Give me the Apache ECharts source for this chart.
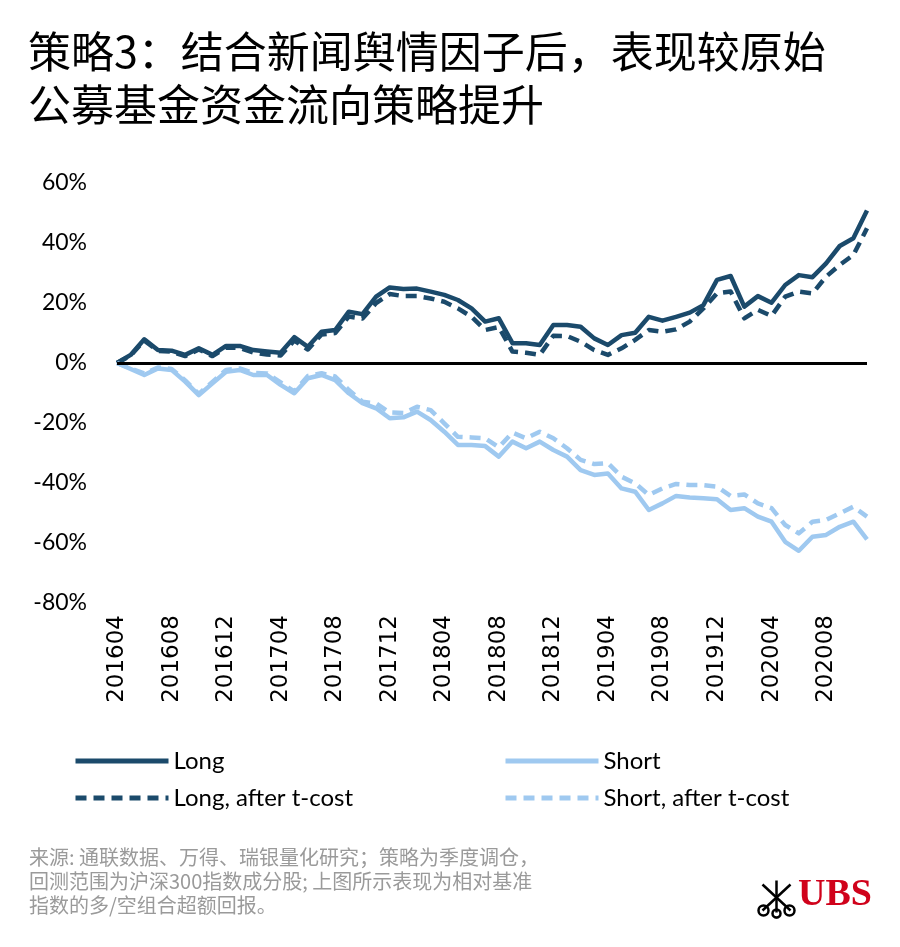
<!DOCTYPE html>
<html><head><meta charset="utf-8">
<script src="https://cdn.jsdelivr.net/npm/echarts@6/dist/echarts.min.js"></script>
<style>html,body{margin:0;padding:0;background:#fff}#c{width:900px;height:947px}</style>
</head><body><div id="c"></div>
<script>
const months = ['201604','201605','201606','201607','201608','201609','201610','201611','201612',
'201701','201702','201703','201704','201705','201706','201707','201708','201709','201710','201711','201712',
'201801','201802','201803','201804','201805','201806','201807','201808','201809','201810','201811','201812',
'201901','201902','201903','201904','201905','201906','201907','201908','201909','201910','201911','201912',
'202001','202002','202003','202004','202005','202006','202007','202008','202009','202010','202011'];
const longRet = [0,2.7,7.9,4.3,4.1,2.7,4.9,2.7,5.7,5.7,4.3,3.8,3.4,8.6,5.4,10.4,11,17.1,16.3,22.1,25.2,24.7,24.8,23.8,22.7,21,18.2,13.8,14.9,6.6,6.6,6,12.7,12.7,12.1,8.2,6,9.3,10.1,15.4,14.1,15.4,16.8,19.3,27.7,29,18.8,22.3,20.1,26,29.3,28.6,33.2,39,41.6,50.8];
const longAfterCost = [0,2.5,7.5,4,3.8,2.3,4.5,2.3,5.2,5,3.5,2.8,2.5,7.5,4.5,9.5,10,15.5,14.8,20,23,22.3,22.3,21.5,20.4,18.2,15.4,11,12,3.8,3.4,2.7,9.1,9,7.1,4.3,2.7,4.9,7.7,11,10.4,11.2,13.8,18.2,23.2,23.8,14.9,17.7,15.7,22.1,23.8,23.2,28.8,32.7,36,44.9];
const shortRet = [0,-2,-4,-1.8,-2.3,-6.2,-10.7,-6.8,-2.9,-2.3,-4,-4,-7.3,-10.1,-5.1,-4,-5.7,-10.1,-13.4,-15.1,-18.4,-18.1,-16.2,-19,-22.9,-27.3,-27.3,-27.7,-31.2,-26.2,-28.4,-26.2,-29,-31.2,-35.7,-37.3,-36.8,-41.8,-42.9,-49,-46.8,-44.3,-44.8,-45.1,-45.4,-49,-48.4,-51.2,-52.9,-59.6,-62.6,-57.9,-57.3,-54.6,-52.9,-58.8];
const shortAfterCost = [0,-1.8,-3.5,-1.5,-2,-5.8,-10.3,-6.3,-2.3,-1.8,-3.3,-3.5,-6.5,-9.5,-4.3,-3.4,-4.5,-9,-12.9,-13.5,-16.5,-16.7,-14.6,-15.7,-20.1,-24.6,-24.8,-25.1,-28.1,-23.2,-25.1,-22.9,-25.1,-28.4,-32.3,-33.7,-33.4,-37.9,-40.1,-44,-41.8,-40.3,-40.7,-40.7,-41.2,-44.3,-43.8,-46.8,-48.4,-54,-56.8,-52.9,-52.3,-50.1,-47.9,-51.2];
const seriesNames = ['Long','Short','Long, after t-cost','Short, after t-cost'];
const titleLines = ['策略3：结合新闻舆情因子后，表现较原始','公募基金资金流向策略提升'];
const noteLines = ['来源: 通联数据、万得、瑞银量化研究；策略为季度调仓，','回测范围为沪深300指数成分股; 上图所示表现为相对基准','指数的多/空组合超额回报。'];

const DARK = '#1b4a6b', LIGHT = '#9fc9f0';
const chart = echarts.init(document.getElementById('c'));
const mkSeries = (name, data, color, dashed, withZero) => ({
  name, type: 'line', data, symbol: 'none', smooth: false,
  lineStyle: { color, width: 4.5, type: dashed ? [11, 7] : 'solid', cap: 'butt', join: 'round' },
  itemStyle: { color },
  markLine: withZero ? { silent: true, symbol: 'none', label: { show: false },
    lineStyle: { color: '#000', width: 3, type: 'solid' }, data: [{ yAxis: 0 }] } : undefined,
  z: dashed ? 3 : 2
});
const legendText = { fontFamily: 'Lato', fontSize: 24, color: '#000', padding: 0, lineHeight: 26 };
const legendBase = { orient: 'vertical', top: 743, itemWidth: 93, itemHeight: 14, itemGap: 11,
  textStyle: legendText, itemStyle: { opacity: 0 }, lineStyle: { width: 5 } };
chart.setOption({
  backgroundColor: '#fff',
  animation: false,
  grid: { left: 117, right: 33, top: 183, bottom: 344, containLabel: false },
  legend: [
    Object.assign({ data: ['Long', 'Long, after t-cost'], left: 68 }, legendBase),
    Object.assign({ data: ['Short', 'Short, after t-cost'], left: 498 }, legendBase)
  ],
  xAxis: {
    type: 'category', data: months, boundaryGap: false,
    axisLine: { show: false, onZero: false }, axisTick: { show: false },
    axisLabel: { interval: 3, rotate: 90, margin: 12, fontFamily: 'DejaVu Sans', fontSize: 23, color: '#000' },
    splitLine: { show: false }
  },
  yAxis: {
    type: 'value', min: -80, max: 60, interval: 20,
    axisLine: { show: false }, axisTick: { show: false }, splitLine: { show: false },
    axisLabel: { formatter: '{value}%', fontFamily: 'Lato', fontSize: 23, color: '#000', margin: 30 }
  },
  series: [
    mkSeries(seriesNames[0], longRet, DARK, false, true),
    mkSeries(seriesNames[1], shortRet, LIGHT, false, false),
    mkSeries(seriesNames[2], longAfterCost, DARK, true, false),
    mkSeries(seriesNames[3], shortAfterCost, LIGHT, true, false)
  ],
  graphic: [
    { type: 'text', left: 28, top: 25, style: { text: titleLines.join('\n'), font: '43px "Noto Sans CJK SC"', fill: '#000', lineHeight: 53 } },
    { type: 'text', left: 29, top: 845, style: { text: noteLines.join('\n'), font: '20px "Noto Sans CJK SC"', fill: '#9a9a9a', lineHeight: 24 } },
    { type: 'text', left: 798, top: 876, style: { text: 'UBS', font: 'bold 38px "Liberation Serif"', fill: '#d0021b' } },
    { type: 'group', left: 756, top: 878, children: [
      { type: 'line', shape: { x1: 6, y1: 30, x2: 34, y2: 4 }, style: { stroke: '#000', lineWidth: 2.5 } },
      { type: 'line', shape: { x1: 6, y1: 4, x2: 34, y2: 30 }, style: { stroke: '#000', lineWidth: 2.5 } },
      { type: 'line', shape: { x1: 20, y1: 0, x2: 20, y2: 32 }, style: { stroke: '#000', lineWidth: 2.5 } },
      { type: 'circle', shape: { cx: 7, cy: 30, r: 5 }, style: { stroke: '#000', fill: 'none', lineWidth: 2.5 } },
      { type: 'circle', shape: { cx: 33, cy: 30, r: 5 }, style: { stroke: '#000', fill: 'none', lineWidth: 2.5 } },
      { type: 'circle', shape: { cx: 20, cy: 33, r: 4 }, style: { stroke: '#000', fill: 'none', lineWidth: 2.5 } },
      { type: 'line', shape: { x1: 20, y1: 37, x2: 20, y2: 38 }, style: { stroke: '#000', lineWidth: 2 } }
    ]}
  ]
});
</script></body></html>
